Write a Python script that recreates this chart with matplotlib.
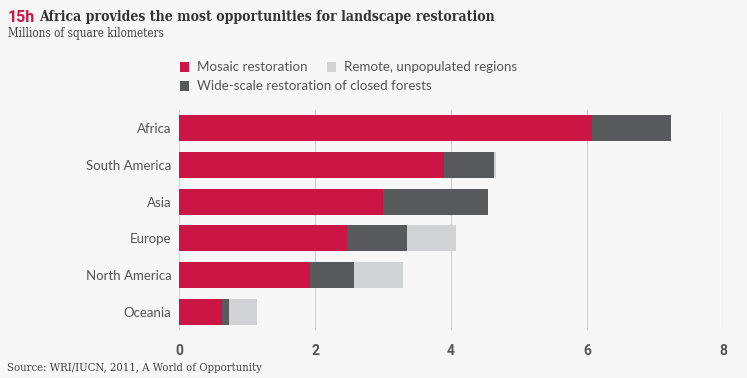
import matplotlib.pyplot as plt
from matplotlib.patches import Rectangle
import numpy as np

# data (millions of km²)
regions = ['Africa', 'South America', 'Asia', 'Europe', 'North America', 'Oceania']
mosaic = [6.07, 3.89, 3.00, 2.47, 1.92, 0.63]
wide_scale = [1.17, 0.74, 1.54, 0.89, 0.65, 0.11]
remote = [0.00, 0.03, 0.00, 0.71, 0.72, 0.41]

c_mosaic = '#cc1445'
c_wide = '#58595b'
c_remote = '#d1d2d4'
bg = '#f7f7f7'

W, H = 747, 378
fig = plt.figure(figsize=(W / 100, H / 100), dpi=100, facecolor=bg)

def px(x, y):
    return x / W, 1 - y / H

# axes: x 0..8 from px 179 to 723, y from 110 to 330
ax = fig.add_axes([179 / W, 1 - 330 / H, (723 - 179) / W, 220 / H], facecolor=bg)

y = np.arange(len(regions))
h = 0.71
m = np.array(mosaic)
w = np.array(wide_scale)
r = np.array(remote)
ax.barh(y, m, height=h, color=c_mosaic, zorder=3)
ax.barh(y, w, left=m, height=h, color=c_wide, zorder=3)
ax.barh(y, r, left=m + w, height=h, color=c_remote, zorder=3)

ax.set_xlim(0, 8)
ax.set_ylim(5.5, -0.5)
ax.set_xticks([0, 2, 4, 6, 8])
ax.set_yticks(y)
ax.set_yticklabels(regions, fontsize=9.5, color='#555555', family='Lato')
ax.tick_params(axis='x', length=0, pad=10, labelsize=10, labelcolor='#555555')
ax.tick_params(axis='y', length=0, pad=5.5)
for t in ax.get_xticklabels():
    t.set_family('Roboto')
    t.set_fontweight('bold')
ax.grid(axis='x', color='#d4d4d4', linewidth=0.9, zorder=0)
for s in ax.spines.values():
    s.set_visible(False)

# title
t1 = fig.text(*px(8, 17), '15h', fontsize=11.5, fontweight='bold', color=c_mosaic,
              family='Roboto', va='center', ha='left')
fig.canvas.draw()
bb = t1.get_window_extent()
fig.text((bb.x1 + 4) / W, 1 - 17 / H, 'Africa provides the most opportunities for landscape restoration',
         fontsize=10.1, fontweight='bold', color='#333333', family='DejaVu Serif',
         fontstretch='condensed', va='center', ha='left')
fig.text(*px(8, 34), 'Millions of square kilometers', fontsize=8.4, color='#444444',
         family='DejaVu Serif', fontstretch='condensed', va='center', ha='left')

# legend
items = [(180, 67, c_mosaic, 'Mosaic restoration'),
         (327, 67, c_remote, 'Remote, unpopulated regions'),
         (180, 86, c_wide, 'Wide-scale restoration of closed forests')]
for x0, y0, col, lab in items:
    fig.patches.append(Rectangle(px(x0, y0 + 4.5), 9 / W, 9 / H, transform=fig.transFigure,
                                 facecolor=col, edgecolor='none'))
    fig.text(*px(x0 + 17, y0), lab, fontsize=9.6, color='#555555', family='Lato',
             va='center', ha='left')

fig.text(*px(7, 368), 'Source: WRI/IUCN, 2011, A World of Opportunity', fontsize=8.1,
         color='#444444', family='DejaVu Serif', fontstretch='condensed',
         va='center', ha='left')

fig.savefig('out.png', dpi=100, facecolor=bg)
